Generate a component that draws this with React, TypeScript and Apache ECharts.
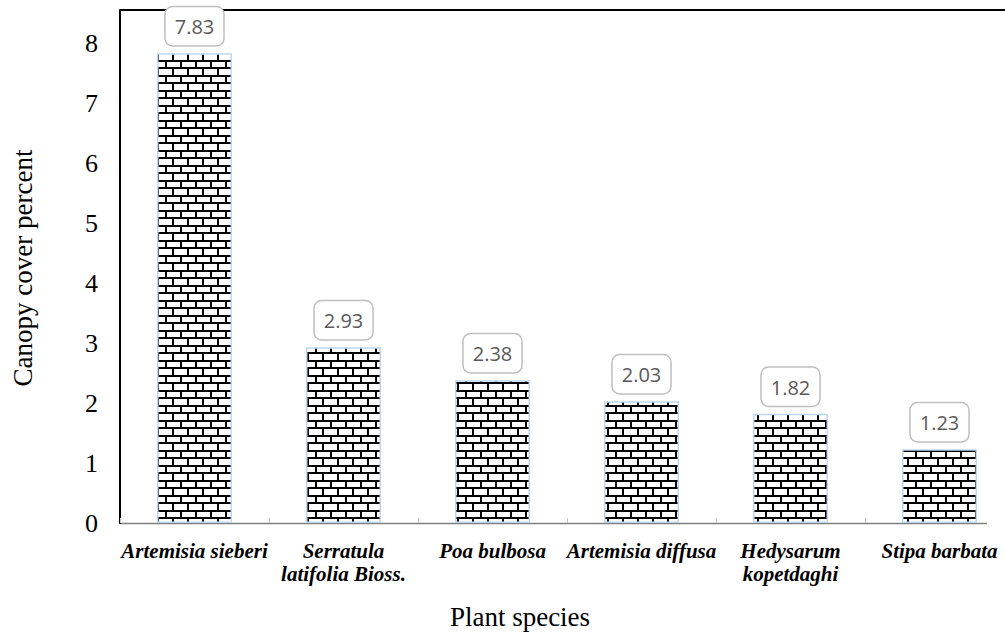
import React, { useEffect, useRef } from "react";
import * as echarts from "echarts";

const categories = [
  "Artemisia sieberi",
  "Serratula\nlatifolia Bioss.",
  "Poa bulbosa",
  "Artemisia diffusa",
  "Hedysarum\nkopetdaghi",
  "Stipa barbata",
];
const canopyCover = [7.83, 2.93, 2.38, 2.03, 1.82, 1.23];
const yTicks = { min: 0, interval: 1 };
const yAxisTitle = "Canopy cover percent";
const xAxisTitle = "Plant species";

function makeBrick(): HTMLCanvasElement {
  const c = document.createElement("canvas");
  c.width = 15;
  c.height = 15;
  const ctx = c.getContext("2d")!;
  ctx.fillStyle = "#ffffff";
  ctx.fillRect(0, 0, 15, 15);
  ctx.fillStyle = "#000000";
  ctx.fillRect(0, 0, 15, 2);
  ctx.fillRect(0, 7, 15, 2);
  ctx.fillRect(0, 0, 2, 8);
  ctx.fillRect(7, 7, 2, 8);
  return c;
}

export default function App() {
  const ref = useRef<HTMLDivElement>(null);
  useEffect(() => {
    if (!ref.current) return;
    const chart = echarts.init(ref.current, null, { renderer: "svg" });
    const brick = makeBrick();
    const serif = "'Liberation Serif', 'Times New Roman', serif";
    chart.setOption({
      animation: false,
      backgroundColor: "#ffffff",
      grid: { left: 120, top: 10, width: 894, height: 513 },
      xAxis: {
        type: "category",
        data: categories,
        axisLine: { show: false },
        axisTick: {
          show: true,
          inside: true,
          length: 5,
          lineStyle: { color: "#c8c8c8", width: 1 },
        },
        axisLabel: {
          interval: 0,
          margin: 16,
          color: "#000000",
          fontFamily: serif,
          fontWeight: "bold",
          fontStyle: "italic",
          fontSize: 21,
          lineHeight: 23,
        },
      },
      yAxis: {
        type: "value",
        min: yTicks.min,
        max: 8.55,
        interval: yTicks.interval,
        splitLine: { show: false },
        axisTick: { show: false },
        axisLine: { show: true, lineStyle: { color: "#000000", width: 2 } },
        axisLabel: {
          showMaxLabel: false,
          margin: 22,
          color: "#000000",
          fontFamily: serif,
          fontSize: 26,
          formatter: (v: number) => (Number.isInteger(v) ? String(v) : ""),
        },
      },
      graphic: [
        {
          type: "line",
          z: 0,
          shape: { x1: 120, y1: 10, x2: 1020, y2: 10 },
          style: { stroke: "#000000", lineWidth: 2 },
        },
        {
          type: "line",
          z: 0,
          shape: { x1: 120, y1: 523.5, x2: 987, y2: 523.5 },
          style: { stroke: "#7f7f7f", lineWidth: 1.5 },
        },
        {
          type: "text",
          x: 23,
          y: 268,
          rotation: Math.PI / 2,
          style: {
            text: yAxisTitle,
            fontFamily: serif,
            fontSize: 27,
            fill: "#000000",
            align: "center",
            verticalAlign: "middle",
          },
        },
        {
          type: "text",
          x: 520,
          y: 617,
          style: {
            text: xAxisTitle,
            fontFamily: serif,
            fontSize: 27,
            fill: "#000000",
            align: "center",
            verticalAlign: "middle",
          },
        },
      ],
      series: [
        {
          type: "bar",
          data: canopyCover,
          barWidth: 75,
          z: 2,
          itemStyle: {
            color: {
              image: brick,
              imageWidth: 15,
              imageHeight: 15,
              repeat: "repeat",
            },
            borderColor: "#bdd7ee",
            borderWidth: 1.5,
          },
          label: {
            show: true,
            position: "top",
            distance: 8,
            formatter: (p: any) => Number(p.value).toFixed(2),
            fontFamily: "'Open Sans', 'Liberation Sans', sans-serif",
            fontSize: 20,
            lineHeight: 25,
            color: "#595959",
            backgroundColor: "#ffffff",
            borderColor: "#bfbfbf",
            borderWidth: 1.5,
            borderRadius: 7,
            padding: [7, 9, 6, 9],
          },
        },
      ],
    });
    return () => chart.dispose();
  }, []);
  return (
    <div style={{ position: "absolute", left: 0, top: 0, width: 1005, height: 637, overflow: "hidden" }}>
      <div ref={ref} style={{ width: 1020, height: 637 }} />
    </div>
  );
}
